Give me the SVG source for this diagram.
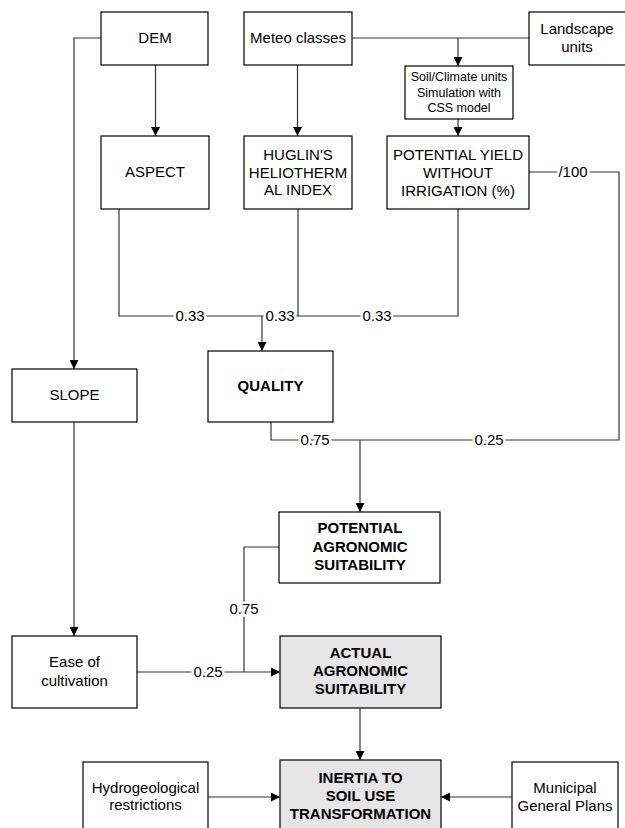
<svg xmlns="http://www.w3.org/2000/svg" width="625" height="828" viewBox="0 0 625 828">
<style>
  .box { fill: #ffffff; stroke: #000000; stroke-width: 1.2; }
  .grey { fill: #e6e6e6; stroke: #000000; stroke-width: 1.2; }
  .t { font-family: "Liberation Sans", Arial, sans-serif; font-size: 15px; fill: #000; text-anchor: middle; }
  .b { font-weight: bold; }
  .s { font-size: 12.5px; }
  .c { fill: none; stroke: #333333; stroke-width: 1.2; }
  .lbl { font-family: "Liberation Sans", Arial, sans-serif; font-size: 15px; fill: #000; text-anchor: middle; paint-order: stroke; stroke: #ffffff; stroke-width: 5px; }
</style>
<defs>
  <marker id="arr" markerUnits="userSpaceOnUse" markerWidth="9" markerHeight="9" refX="9" refY="4.5" orient="auto">
    <path d="M0,0 L9,4.5 L0,9 z" fill="#000"/>
  </marker>
</defs>

<g id="connectors">
  <path class="c" d="M101,38 H74 V369" marker-end="url(#arr)"/>
  <path class="c" d="M155.5,65 V136" marker-end="url(#arr)"/>
  <path class="c" d="M297.5,65 V136" marker-end="url(#arr)"/>
  <path class="c" d="M352,38 H529"/>
  <path class="c" d="M458,38 V66" marker-end="url(#arr)"/>
  <path class="c" d="M458,119 V136" marker-end="url(#arr)"/>
  <path class="c" d="M119,209 V316 H458 V209"/>
  <path class="c" d="M298,209 V316"/>
  <path class="c" d="M262,316 V351" marker-end="url(#arr)"/>
  <path class="c" d="M529,172 H619 V440 H271 V422"/>
  <path class="c" d="M360,440 V512" marker-end="url(#arr)"/>
  <path class="c" d="M74,422 V636" marker-end="url(#arr)"/>
  <path class="c" d="M279,547 H244 V672"/>
  <path class="c" d="M137,672 H280" marker-end="url(#arr)"/>
  <path class="c" d="M360,708 V760" marker-end="url(#arr)"/>
  <path class="c" d="M208,797 H280" marker-end="url(#arr)"/>
  <path class="c" d="M512,797 H441" marker-end="url(#arr)"/>
  <text class="lbl" x="190" y="321">0.33</text>
  <text class="lbl" x="280" y="321">0.33</text>
  <text class="lbl" x="377" y="321">0.33</text>
  <text class="lbl" x="573" y="177">/100</text>
  <text class="lbl" x="315" y="445">0.75</text>
  <text class="lbl" x="489" y="445">0.25</text>
  <text class="lbl" x="244" y="614">0.75</text>
  <text class="lbl" x="208" y="677">0.25</text>
</g>

<g id="dem">
  <rect class="box" x="101" y="12" width="107" height="53"/>
  <text class="t" x="155" y="43">DEM</text>
</g>
<g id="meteo">
  <rect class="box" x="244" y="12" width="108" height="53"/>
  <text class="t" x="298" y="43">Meteo classes</text>
</g>
<g id="landscape">
  <rect class="box" x="529" y="12" width="100" height="53"/>
  <text class="t" x="577" y="34">Landscape</text>
  <text class="t" x="577" y="52">units</text>
</g>
<g id="soil">
  <rect class="box" x="405" y="66" width="108" height="53"/>
  <text class="t s" x="459" y="81">Soil/Climate units</text>
  <text class="t s" x="459" y="96.5">Simulation with</text>
  <text class="t s" x="459" y="112">CSS model</text>
</g>
<g id="aspect">
  <rect class="box" x="101" y="136" width="108" height="73"/>
  <text class="t" x="155" y="177">ASPECT</text>
</g>
<g id="huglin">
  <rect class="box" x="244" y="136" width="108" height="73"/>
  <text class="t" x="298" y="160">HUGLIN'S</text>
  <text class="t" x="298" y="177.5">HELIOTHERM</text>
  <text class="t" x="298" y="195">AL INDEX</text>
</g>
<g id="potential-yield">
  <rect class="box" x="387" y="136" width="142" height="73"/>
  <text class="t" x="458" y="159.5">POTENTIAL YIELD</text>
  <text class="t" x="458" y="177.5">WITHOUT</text>
  <text class="t" x="458" y="196">IRRIGATION (%)</text>
</g>
<g id="slope">
  <rect class="box" x="12" y="369" width="125" height="53"/>
  <text class="t" x="74.5" y="400">SLOPE</text>
</g>
<g id="quality">
  <rect class="box" x="208" y="351" width="125" height="71"/>
  <text class="t b" x="270.5" y="391">QUALITY</text>
</g>
<g id="potential-agronomic">
  <rect class="box" x="279" y="512" width="161" height="71"/>
  <text class="t b" x="360" y="533">POTENTIAL</text>
  <text class="t b" x="360" y="551.5">AGRONOMIC</text>
  <text class="t b" x="360" y="569.5">SUITABILITY</text>
</g>
<g id="ease">
  <rect class="box" x="12" y="636" width="125" height="72"/>
  <text class="t" x="74.5" y="667">Ease of</text>
  <text class="t" x="74.5" y="686">cultivation</text>
</g>
<g id="actual">
  <rect class="grey" x="280" y="636" width="161" height="72"/>
  <text class="t b" x="360.5" y="658">ACTUAL</text>
  <text class="t b" x="360.5" y="676">AGRONOMIC</text>
  <text class="t b" x="360.5" y="694">SUITABILITY</text>
</g>
<g id="hydro">
  <rect class="box" x="83" y="762" width="125" height="80"/>
  <text class="t" x="145.5" y="793">Hydrogeological</text>
  <text class="t" x="145.5" y="810">restrictions</text>
</g>
<g id="inertia">
  <rect class="grey" x="280" y="760" width="161" height="82"/>
  <text class="t b" x="360.5" y="783">INERTIA TO</text>
  <text class="t b" x="360.5" y="801">SOIL USE</text>
  <text class="t b" x="360.5" y="819">TRANSFORMATION</text>
</g>
<g id="municipal">
  <rect class="box" x="512" y="762" width="106" height="80"/>
  <text class="t" x="565" y="793">Municipal</text>
  <text class="t" x="565" y="811">General Plans</text>
</g>
</svg>
